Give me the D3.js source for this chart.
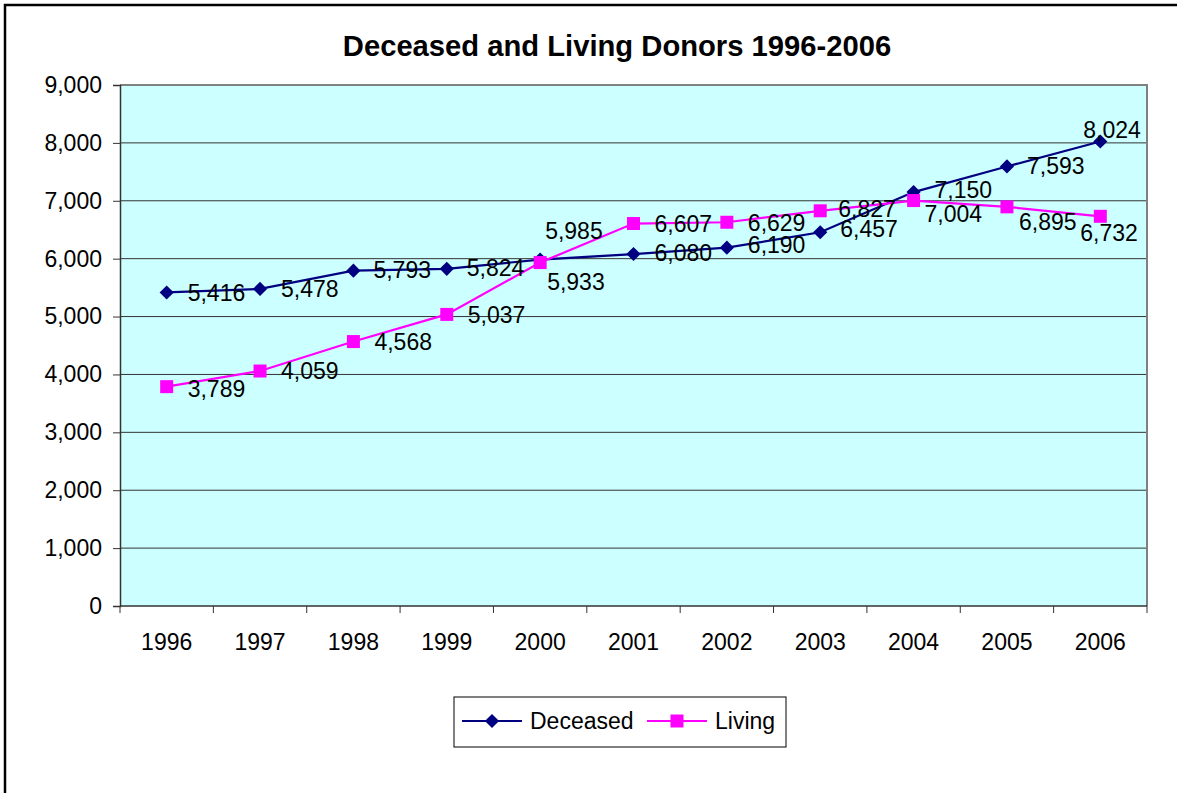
<!DOCTYPE html>
<html>
<head>
<meta charset="utf-8">
<script src="https://cdn.jsdelivr.net/npm/d3@7"></script>
<style>
  body { margin: 0; background: #fff; }
  text { font-family: "Liberation Sans", Arial, sans-serif; fill: #000; }
</style>
</head>
<body>
<div id="chart"></div>
<script>
var years = ["1996","1997","1998","1999","2000","2001","2002","2003","2004","2005","2006"];
var deceased = [5416, 5478, 5793, 5824, 5985, 6080, 6190, 6457, 7150, 7593, 8024];
var living = [3789, 4059, 4568, 5037, 5933, 6607, 6629, 6827, 7004, 6895, 6732];
var yTicks = [0, 1000, 2000, 3000, 4000, 5000, 6000, 7000, 8000, 9000];

// where each value label sits, relative to its marker
var deceasedLabelShift = [[21,0],[21,0],[20,-1],[20,-1],[5,-29],[21,-1],[21,-3],[20,-3],[21,-2],[20,-1],[-17,-12]];
var livingLabelShift = [[21,2],[21,0],[21,0],[21,0],[7,19],[21,0],[21,0],[18,-2],[11,13],[12,15],[-20,16]];

var W = 1177, H = 793;
var plotLeft = 120, plotRight = 1147, plotTop = 85, plotBottom = 606;

var svg = d3.select('#chart').append('svg')
            .attr('width', W).attr('height', H);

svg.append('rect')
   .attr('x', 5).attr('y', 5)
   .attr('width', 1300).attr('height', 1000)
   .attr('fill', 'white').attr('stroke', '#000').attr('stroke-width', 2.5);

var x = d3.scaleBand().domain(years).range([plotLeft, plotRight]);
var y = d3.scaleLinear().domain([0, 9000]).range([plotBottom, plotTop]);
var cx = function(d, i) { return x(years[i]) + x.bandwidth() / 2; };

svg.append('rect')
   .attr('x', plotLeft).attr('y', plotTop)
   .attr('width', plotRight - plotLeft).attr('height', plotBottom - plotTop)
   .attr('fill', '#ccffff');

// gridlines
svg.selectAll('.grid').data(yTicks.slice(1)).enter()
   .append('line')
   .attr('x1', plotLeft).attr('x2', plotRight)
   .attr('y1', function(d) { return y(d); })
   .attr('y2', function(d) { return y(d); })
   .attr('stroke', '#333').attr('stroke-width', 1);

// plot frame (top/right gray)
svg.append('path')
   .attr('d', 'M' + plotLeft + ',' + plotTop + 'H' + plotRight + 'V' + plotBottom)
   .attr('fill', 'none').attr('stroke', '#808080').attr('stroke-width', 2);

// y axis
var yAxis = d3.axisLeft(y).tickValues(yTicks).tickSize(7).tickPadding(11)
              .tickFormat(d3.format(','));
var gy = svg.append('g').attr('transform', 'translate(' + plotLeft + ',0)').call(yAxis);
gy.select('.domain').attr('stroke', '#333').attr('stroke-width', 1.5);
gy.selectAll('.tick line').attr('stroke', '#333');
gy.selectAll('text').attr('font-size', 23).attr('font-family', '"Liberation Sans", Arial, sans-serif');

// x axis, ticks at category boundaries
var gx = svg.append('g').attr('transform', 'translate(0,' + plotBottom + ')');
gx.append('line').attr('x1', plotLeft).attr('x2', plotRight)
  .attr('stroke', '#333').attr('stroke-width', 1.5);
var bounds = years.map(function(d) { return x(d); }).concat([plotRight]);
gx.selectAll('.xt').data(bounds).enter().append('line')
  .attr('x1', function(d) { return d; }).attr('x2', function(d) { return d; })
  .attr('y1', 0).attr('y2', 7).attr('stroke', '#333');
gx.selectAll('.xl').data(years).enter().append('text')
  .attr('x', function(d) { return x(d) + x.bandwidth() / 2; })
  .attr('y', 44)
  .attr('text-anchor', 'middle').attr('font-size', 23)
  .text(function(d) { return d; });

// title
svg.append('text')
   .attr('x', 617).attr('y', 56)
   .attr('text-anchor', 'middle')
   .attr('font-size', 29.2).attr('font-weight', 'bold')
   .text('Deceased and Living Donors 1996-2006');

var line = d3.line().x(cx).y(function(d) { return y(d); });

var diamond = d3.symbol().type(d3.symbolDiamond2).size(128);
var square = d3.symbol().type(d3.symbolSquare).size(169);

function drawSeries(values, color, symbol) {
  svg.append('path').datum(values)
     .attr('d', line)
     .attr('fill', 'none').attr('stroke', color).attr('stroke-width', 2.2);
  svg.append('g').selectAll('path').data(values).enter().append('path')
     .attr('d', symbol)
     .attr('transform', function(d, i) { return 'translate(' + cx(d, i) + ',' + y(d) + ')'; })
     .attr('fill', color);
}

function drawLabels(values, shifts) {
  svg.append('g').selectAll('text').data(values).enter().append('text')
     .attr('x', function(d, i) { return cx(d, i) + shifts[i][0]; })
     .attr('y', function(d, i) { return y(d) + shifts[i][1]; })
     .attr('dy', '0.36em')
     .attr('font-size', 23)
     .text(function(d) { return d3.format(',')(d); });
}

drawSeries(deceased, '#000080', diamond);
drawSeries(living, '#ff00ff', square);
drawLabels(deceased, deceasedLabelShift);
drawLabels(living, livingLabelShift);

// legend
var lg = svg.append('g');
lg.append('rect').attr('x', 454).attr('y', 697).attr('width', 332).attr('height', 50)
  .attr('fill', 'white').attr('stroke', '#000').attr('stroke-width', 1);
var legendItems = [
  {name: 'Deceased', color: '#000080', sym: diamond, x0: 462},
  {name: 'Living', color: '#ff00ff', sym: square, x0: 647}
];
legendItems.forEach(function(it) {
  lg.append('line').attr('x1', it.x0).attr('x2', it.x0 + 60)
    .attr('y1', 721).attr('y2', 721)
    .attr('stroke', it.color).attr('stroke-width', 2.2);
  lg.append('path').attr('d', it.sym)
    .attr('transform', 'translate(' + (it.x0 + 30) + ',721)')
    .attr('fill', it.color);
  lg.append('text').attr('x', it.x0 + 68).attr('y', 729)
    .attr('font-size', 23).text(it.name);
});
</script>
</body>
</html>
